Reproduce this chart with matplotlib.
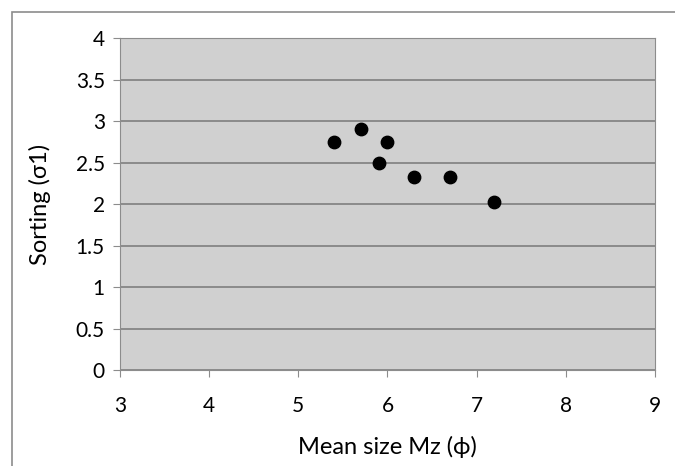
import numpy as np
import matplotlib.pyplot as plt
from matplotlib.patches import Rectangle
from matplotlib.ticker import FuncFormatter

plt.rcParams['font.family'] = ['Lato', 'DejaVu Sans']

# data
mean_size = [5.4, 5.7, 5.9, 6.0, 6.3, 6.7, 7.2]
sorting = [2.75, 2.9, 2.5, 2.75, 2.33, 2.33, 2.02]

fig = plt.figure(figsize=(6.75, 4.66), dpi=100)
ax = fig.add_axes([0.178, 0.206, 0.792, 0.712])

# outer chart frame (only top/left visible in the original)
fig.patches.append(Rectangle((12 / 675, -0.1), 1.2, 1.1 - 12 / 466,
                             transform=fig.transFigure, fill=False,
                             edgecolor='#8c8c8c', linewidth=1.2))

ax.set_facecolor('#d0d0d0')
ax.scatter(mean_size, sorting, s=80, color='black', zorder=3)

ax.set_xlim(3, 9)
ax.set_ylim(0, 4)
ax.set_xticks(np.arange(3, 10, 1))
ax.set_yticks(np.arange(0, 4.01, 0.5))
ax.yaxis.set_major_formatter(FuncFormatter(lambda v, p: '%g' % v))
ax.grid(axis='y', color='#7f7f7f', linewidth=1.2)
ax.set_axisbelow(True)

for s in ax.spines.values():
    s.set_color('#8c8c8c')
ax.tick_params(colors='#8c8c8c', labelcolor='black', labelsize=15,
               direction='out', length=5)
ax.tick_params(axis='x', pad=14)
ax.tick_params(axis='y', pad=6)

ax.set_xlabel('Mean size Mz (ϕ)', fontsize=17, labelpad=14)
ax.set_ylabel('Sorting (σ1)', fontsize=17, labelpad=18)

plt.savefig('out.png', dpi=100)
